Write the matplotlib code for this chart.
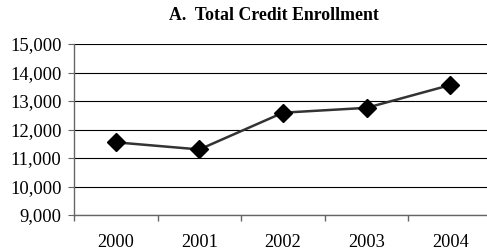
import matplotlib
matplotlib.use("Agg")
import matplotlib.pyplot as plt
from matplotlib.ticker import FuncFormatter, FixedLocator

years = ["2000", "2001", "2002", "2003", "2004"]
enrollment = [11550, 11300, 12590, 12760, 13560]
yticks = [9000, 10000, 11000, 12000, 13000, 14000, 15000]

plt.rcParams['font.family'] = ['Liberation Serif', 'DejaVu Serif']

fig = plt.figure(figsize=(4.87, 2.5), dpi=100)
W, H = 487, 250
left, right, top, bottom = 74, 492, 44, 215
ax = fig.add_axes([left / W, 1 - bottom / H, (right - left) / W, (bottom - top) / H])

x = list(range(len(years)))
ax.plot(x, enrollment, color='#333333', linewidth=1.8, marker='D',
        markersize=9, markerfacecolor='black', markeredgecolor='black', zorder=3)

ax.set_xlim(-0.5, len(years) - 0.5)
ax.set_ylim(9000, 15000)
ax.set_yticks(yticks)
ax.yaxis.set_major_formatter(FuncFormatter(lambda v, p: f"{int(v):,}"))
ax.yaxis.grid(True, color='black', linewidth=0.8)
ax.set_axisbelow(True)

ax.set_xticks(x)
ax.set_xticklabels(years)
ax.xaxis.set_minor_locator(FixedLocator([i - 0.5 for i in range(len(years) + 1)]))
ax.tick_params(axis='x', which='major', length=0, pad=14, labelsize=13.2)
ax.tick_params(axis='x', which='minor', length=4, direction='out', color='#666666', width=1)
ax.tick_params(axis='y', which='major', length=4, direction='out', color='#666666',
               labelsize=13.4, pad=5)

for s in ['top', 'right']:
    ax.spines[s].set_visible(False)
ax.spines['left'].set_color('#666666')
ax.spines['bottom'].set_color('#666666')
ax.spines['left'].set_linewidth(1)
ax.spines['bottom'].set_linewidth(1)

fig.text(274 / W, 1 - 15 / H, "A.  Total Credit Enrollment", ha='center', va='center',
         fontsize=12.8, fontweight='bold')

fig.savefig("out.png", dpi=100)
